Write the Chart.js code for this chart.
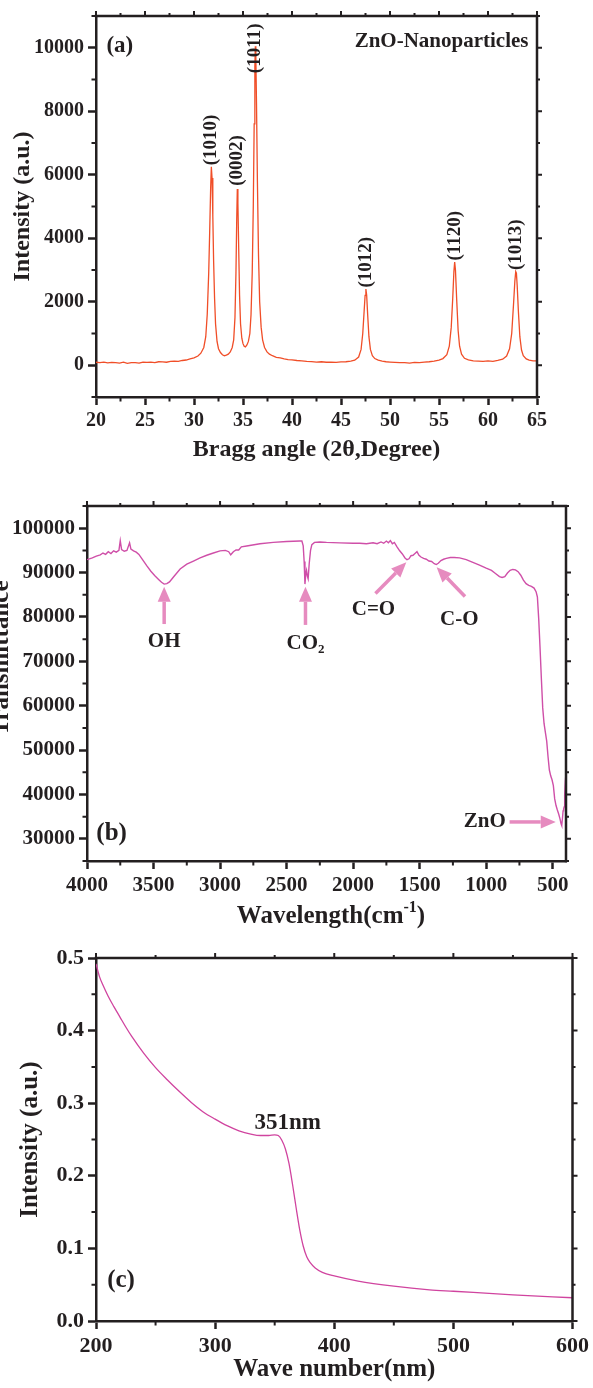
<!DOCTYPE html>
<html>
<head>
<meta charset="utf-8">
<title>ZnO nanoparticles - XRD, FTIR, UV</title>
<script src="https://cdn.jsdelivr.net/npm/chart.js@4.4.1/dist/chart.umd.min.js"></script>
<style>
  body { margin: 0; background: #fff; }
  .panel { position: absolute; left: 0; }
  canvas { display: block; }
</style>
</head>
<body>
<div class="panel" style="top:0px"><canvas id="xrd-chart" width="593" height="475"></canvas></div>
<div class="panel" style="top:475px"><canvas id="ftir-chart" width="593" height="460"></canvas></div>
<div class="panel" style="top:935px"><canvas id="uv-chart" width="593" height="453"></canvas></div>
<script>
var ink = '#231f20';
var serif = '"Liberation Serif", "Times New Roman", serif';

// ---------- (a) XRD ----------
var xrdAngle = [
  20.0, 20.4, 20.8, 21.2, 21.6, 22.0, 22.4, 22.8, 23.2, 23.6,
  24.0, 24.4, 24.8, 25.2, 25.6, 26.0, 26.4, 26.8, 27.2, 27.6,
  28.0, 28.4, 28.8, 29.2, 29.6, 30.0, 30.4, 30.7, 31.0, 31.2,
  31.35, 31.5, 31.6, 31.7, 31.77, 31.84, 31.92, 32.0, 32.1, 32.2,
  32.35, 32.5, 32.7, 32.9, 33.1, 33.3, 33.5, 33.7, 33.9, 34.05,
  34.18, 34.28, 34.36, 34.42, 34.48, 34.56, 34.65, 34.75, 34.88, 35.0,
  35.12, 35.25, 35.4, 35.55, 35.7, 35.82, 35.94, 36.05, 36.14, 36.21,
  36.26, 36.31, 36.38, 36.47, 36.58, 36.7, 36.85, 37.0, 37.2, 37.45,
  37.7, 38.0, 38.4, 38.8, 39.2, 39.6, 40.0, 40.5, 41.0, 41.5,
  42.0, 42.5, 43.0, 43.5, 44.0, 44.5, 45.0, 45.5, 46.0, 46.4,
  46.8, 47.05, 47.22, 47.36, 47.46, 47.54, 47.62, 47.72, 47.85, 48.0,
  48.2, 48.45, 48.8, 49.2, 49.6, 50.0, 50.5, 51.0, 51.5, 52.0,
  52.5, 53.0, 53.5, 54.0, 54.5, 55.0, 55.4, 55.8, 56.05, 56.25,
  56.4, 56.52, 56.6, 56.68, 56.8, 56.95, 57.1, 57.3, 57.6, 58.0,
  58.5, 59.0, 59.5, 60.0, 60.5, 61.0, 61.5, 61.9, 62.2, 62.42,
  62.6, 62.74, 62.83, 62.9, 62.98, 63.1, 63.25, 63.42, 63.6, 63.9,
  64.2, 64.6, 65.0
];
var xrdIntensity = [
  95, 80, 100, 75, 90, 85, 70, 95, 60, 80,
  85, 65, 95, 90, 100, 85, 110, 105, 95, 120,
  130, 125, 150, 165, 200, 230, 290, 380, 560, 900,
  1600, 2900, 4200, 5600, 6250, 5900, 4700, 3300, 2100, 1300,
  750, 520, 400, 330, 300, 320, 350, 420, 560, 800,
  1500, 2900, 4600, 5550, 5100, 3700, 2200, 1300, 850, 680,
  600, 580, 640, 750, 1000, 1600, 2900, 5000, 7600, 9400,
  10050, 9700, 8200, 5800, 3500, 2000, 1200, 800, 560, 420,
  350, 300, 250, 230, 200, 180, 170, 150, 140, 120,
  115, 100, 110, 95, 100, 90, 105, 110, 130, 160,
  260, 500, 1000, 1700, 2200, 2400, 2200, 1600, 900, 500,
  300, 210, 160, 130, 110, 100, 90, 80, 85, 70,
  90, 85, 100, 110, 130, 160, 210, 330, 600, 1200,
  2100, 2950, 3250, 3000, 2100, 1100, 600, 350, 220, 170,
  140, 130, 120, 135, 125, 150, 190, 290, 520, 1000,
  1900, 2650, 2950, 2900, 2500, 1700, 900, 480, 300, 200,
  160, 140, 140
];
var xrdXTicks = [20, 25, 30, 35, 40, 45, 50, 55, 60, 65];
var xrdXMinor = [22.5, 27.5, 32.5, 37.5, 42.5, 47.5, 52.5, 57.5, 62.5];
var xrdYTicks = [0, 2000, 4000, 6000, 8000, 10000];
var xrdYMinor = [-1000, 1000, 3000, 5000, 7000, 9000, 11000];
var xrdPeakAngle = [31.77, 34.42, 36.26, 47.54, 56.6, 62.86];
var xrdPeakName = ['(1010)', '(0002)', '(1011)', '(1012)', '(1120)', '(1013)'];
var xrdPeakLabelBase = [6300, 5650, 9200, 2450, 3300, 3000];

// ---------- (b) FTIR ----------
var ftirWave = [
  4000, 3960, 3930, 3900, 3880, 3860, 3840, 3820, 3800, 3780,
  3760, 3750, 3740, 3720, 3700, 3680, 3670, 3650, 3630, 3610,
  3580, 3550, 3520, 3490, 3460, 3440, 3420, 3400, 3380, 3350,
  3300, 3250, 3200, 3150, 3100, 3050, 3000, 2960, 2935, 2920,
  2900, 2880, 2860, 2840, 2800, 2700, 2600, 2500, 2400, 2385,
  2375, 2368, 2362, 2356, 2350, 2344, 2338, 2330, 2320, 2310,
  2290, 2250, 2200, 2100, 2000, 1950, 1900, 1850, 1820, 1790,
  1770, 1750, 1735, 1720, 1705, 1690, 1670, 1650, 1630, 1610,
  1595, 1580, 1565, 1550, 1535, 1520, 1505, 1490, 1470, 1450,
  1430, 1410, 1390, 1375, 1360, 1340, 1320, 1300, 1270, 1240,
  1200, 1150, 1100, 1050, 1000, 960, 930, 900, 880, 860,
  840, 820, 800, 780, 760, 740, 720, 700, 680, 660,
  640, 625, 615, 605, 595, 585, 575, 565, 555, 545,
  535, 525, 515, 505, 495, 485, 475, 465, 455, 445,
  437, 432, 427, 422, 418, 414, 410, 405, 400
];
var ftirTransmittance = [
  92900, 93300, 93700, 94000, 94400, 94100, 94700, 94300, 94900, 94600,
  95000, 97200, 95200, 94800, 95000, 96700, 95300, 94900, 94600, 94100,
  92800, 91500, 90300, 89300, 88400, 87800, 87400, 87500, 87900, 89000,
  90800, 91900, 92600, 93300, 93900, 94400, 94900, 95000, 94700, 94000,
  94700, 95100, 95100, 95800, 96000, 96500, 96800, 97000, 97100, 97100,
  96000, 92500, 87400, 89600, 90500, 89200, 88600, 92000, 95000, 96300,
  96800, 96900, 96800, 96700, 96600, 96600, 96500, 96700, 96500, 96900,
  96600, 97100, 96700, 97200, 96500, 96800, 95800, 94900, 94200, 93300,
  92900, 93100, 93800, 93900, 94300, 94700, 93900, 93500, 93200, 93000,
  92600, 92500, 92000, 91800, 92100, 92700, 93000, 93200, 93400, 93400,
  93300, 92900, 92300, 91700, 91000, 90500, 89800, 89100, 88900, 89100,
  89900, 90500, 90700, 90600, 90200, 89400, 88300, 87500, 87100, 86900,
  86500, 85700, 84500, 79500, 73000, 66000, 59500, 56000, 54000, 52000,
  48500, 45500, 44200, 43300, 42000, 39000, 37500, 36500, 35600, 34500,
  33400, 33000, 34500, 36300, 36700, 37200, 40000, 43000, 44800
];
var ftirXTicks = [4000, 3500, 3000, 2500, 2000, 1500, 1000, 500];
var ftirXMinor = [3750, 3250, 2750, 2250, 1750, 1250, 750];
var ftirYTicks = [30000, 40000, 50000, 60000, 70000, 80000, 90000, 100000];
var ftirYMinor = [25000, 35000, 45000, 55000, 65000, 75000, 85000, 95000, 105000];
var ftirBandName = ['OH', 'CO', 'C=O', 'C-O', 'ZnO'];
var ftirBandAt = [[3420, 74400], [2358, 74000], [1847, 81560], [1202, 79460], [852, 33800]];
var ftirArrowFrom = [[3420, 78400], [2358, 78200], [1832, 85300], [1159, 84600], [824, 33800]];
var ftirArrowTo = [[3420, 86800], [2358, 86800], [1600, 92300], [1372, 91200], [477, 33800]];

// ---------- (c) UV ----------
var uvWave = [
  200, 203, 206, 210, 215, 220, 225, 230, 240, 250,
  260, 270, 280, 290, 300, 310, 320, 330, 338, 345,
  350, 353, 356, 359, 362, 365, 368, 371, 374, 377,
  380, 384, 390, 400, 420, 450, 480, 500, 550, 600
];
var uvIntensity = [
  0.492, 0.474, 0.462, 0.448, 0.433, 0.419, 0.405, 0.392, 0.369, 0.349,
  0.332, 0.316, 0.301, 0.288, 0.278, 0.269, 0.262, 0.2575, 0.2555, 0.2555,
  0.2565, 0.2555, 0.249, 0.237, 0.217, 0.188, 0.156, 0.126, 0.103, 0.088,
  0.080, 0.073, 0.067, 0.062, 0.055, 0.048, 0.043, 0.041, 0.036, 0.032
];
var uvXTicks = [200, 300, 400, 500, 600];
var uvXMinor = [250, 350, 450, 550];
var uvYTicks = [0, 0.1, 0.2, 0.3, 0.4, 0.5];
var uvYMinor = [0.05, 0.15, 0.25, 0.35, 0.45];

function points(xs, ys) {
  return xs.map(function (x, i) { return { x: x, y: ys[i] }; });
}

function axis(cfg) {
  return {
    type: 'linear',
    position: cfg.position,
    min: cfg.min,
    max: cfg.max,
    reverse: !!cfg.reverse,
    afterBuildTicks: function (s) {
      s.ticks = cfg.ticks.map(function (v) { return { value: v }; });
    },
    afterFit: function (s) {
      if (cfg.position === 'bottom') s.height = cfg.size; else s.width = cfg.size;
    },
    border: { display: true, color: ink, width: 2.5 },
    grid: { drawOnChartArea: false, drawTicks: true, tickLength: 8, tickWidth: 2.5, tickColor: ink },
    ticks: {
      autoSkip: false, maxRotation: 0, minRotation: 0, padding: 4, color: ink,
      font: { family: serif, size: cfg.fontSize, weight: 'bold' },
      callback: cfg.format || function (v) { return String(v); }
    },
    title: cfg.title ? {
      display: true, text: cfg.title, color: ink,
      font: { family: serif, size: cfg.titleSize, weight: 'bold', lineHeight: 1.2 },
      padding: cfg.titlePad
    } : { display: false }
  };
}

// text with optional sub / superscript part and a tail
function richText(ctx, t, x, y) {
  var size = t.size || 20;
  var big = 'bold ' + size + 'px ' + serif;
  var small = 'bold ' + Math.round(size * 0.62) + 'px ' + serif;
  var extra = t.sub || t.sup || '';
  ctx.font = big;
  var w1 = ctx.measureText(t.text).width;
  var w3 = t.tail ? ctx.measureText(t.tail).width : 0;
  ctx.font = small;
  var w2 = extra ? ctx.measureText(extra).width : 0;
  var total = w1 + w2 + w3;
  var x0 = t.align === 'right' ? x - total : (t.align === 'left' ? x : x - total / 2);
  ctx.textAlign = 'left';
  ctx.textBaseline = 'middle';
  ctx.fillStyle = ink;
  ctx.font = big;
  ctx.fillText(t.text, x0, y);
  if (extra) {
    ctx.font = small;
    ctx.fillText(extra, x0 + w1, y + (t.sub ? size * 0.3 : -size * 0.38));
  }
  if (t.tail) {
    ctx.font = big;
    ctx.fillText(t.tail, x0 + w1 + w2, y);
  }
}

function arrow(ctx, x1, y1, x2, y2) {
  var ang = Math.atan2(y2 - y1, x2 - x1), head = 15, half = 6.5;
  var bx = x2 - head * Math.cos(ang), by = y2 - head * Math.sin(ang);
  ctx.beginPath();
  ctx.moveTo(x1, y1);
  ctx.lineTo(bx, by);
  ctx.stroke();
  ctx.beginPath();
  ctx.moveTo(x2, y2);
  ctx.lineTo(bx + half * Math.sin(ang), by - half * Math.cos(ang));
  ctx.lineTo(bx - half * Math.sin(ang), by + half * Math.cos(ang));
  ctx.closePath();
  ctx.fill();
}

// frame, minor ticks, notes and arrows for one panel
function decor(spec) {
  return {
    id: 'decor',
    afterDatasetsDraw: function (chart) {
      var ctx = chart.ctx, xs = chart.scales.x, ys = chart.scales.y;
      ctx.save();
      (spec.arrows || []).forEach(function (ar) {
        ctx.strokeStyle = '#e68bbf';
        ctx.fillStyle = '#e68bbf';
        ctx.lineWidth = 3.5;
        arrow(ctx, xs.getPixelForValue(ar.from[0]), ys.getPixelForValue(ar.from[1]),
          xs.getPixelForValue(ar.to[0]), ys.getPixelForValue(ar.to[1]));
      });
      (spec.labels || []).forEach(function (l) {
        ctx.save();
        ctx.translate(xs.getPixelForValue(l.x), ys.getPixelForValue(l.y));
        if (l.rotate) ctx.rotate(-Math.PI / 2);
        richText(ctx, l, 0, 0);
        ctx.restore();
      });
      (spec.titles || []).forEach(function (l) {
        ctx.save();
        ctx.translate(l.x, l.y);
        if (l.rotate) ctx.rotate(-Math.PI / 2);
        richText(ctx, l, 0, 0);
        ctx.restore();
      });
      ctx.restore();
    },
    afterDraw: function (chart) {
      var ctx = chart.ctx, a = chart.chartArea, xs = chart.scales.x, ys = chart.scales.y;
      ctx.save();
      ctx.strokeStyle = ink;
      ctx.lineWidth = 2.5;
      ctx.lineCap = 'square';
      ctx.beginPath();
      ctx.moveTo(a.left, a.top);
      ctx.lineTo(a.right, a.top);
      ctx.lineTo(a.right, a.bottom);
      ctx.stroke();
      ctx.lineCap = 'butt';
      ctx.lineWidth = 2;
      ctx.beginPath();
      spec.xMinor.forEach(function (v) {
        var p = xs.getPixelForValue(v);
        ctx.moveTo(p, a.bottom); ctx.lineTo(p, a.bottom + 4.5);
        ctx.moveTo(p, a.top); ctx.lineTo(p, a.top - 3);
      });
      spec.xTicks.forEach(function (v) {
        var p = xs.getPixelForValue(v);
        ctx.moveTo(p, a.top); ctx.lineTo(p, a.top - 5);
      });
      spec.yMinor.forEach(function (v) {
        var p = ys.getPixelForValue(v);
        ctx.moveTo(a.left, p); ctx.lineTo(a.left - 4.5, p);
        ctx.moveTo(a.right, p); ctx.lineTo(a.right + 3, p);
      });
      spec.yTicks.forEach(function (v) {
        var p = ys.getPixelForValue(v);
        ctx.moveTo(a.right, p); ctx.lineTo(a.right + 5, p);
      });
      ctx.stroke();
      ctx.restore();
    }
  };
}

var baseOptions = function (padding, scales) {
  return {
    responsive: false,
    animation: false,
    devicePixelRatio: 1,
    layout: { padding: padding },
    plugins: { legend: { display: false }, tooltip: { enabled: false } },
    scales: scales
  };
};

// (a)
var xrdLabels = xrdPeakName.map(function (n, i) {
  return { text: n, x: xrdPeakAngle[i], y: xrdPeakLabelBase[i], rotate: true, align: 'left', size: 19 };
});
xrdLabels.push({ text: '(a)', x: 22.43, y: 10050, size: 23 });
xrdLabels.push({ text: 'ZnO-Nanoparticles', x: 64.13, y: 10210, size: 21, align: 'right' });

new Chart(document.getElementById('xrd-chart'), {
  type: 'line',
  data: {
    datasets: [{
      data: points(xrdAngle, xrdIntensity),
      borderColor: '#f04e28', borderWidth: 1.3, pointRadius: 0, tension: 0
    }]
  },
  options: baseOptions({ left: 4, right: 56, top: 13, bottom: 8 }, {
    x: axis({ position: 'bottom', min: 20, max: 65, ticks: xrdXTicks, size: 70, fontSize: 20,
      title: 'Bragg angle (2θ,Degree)', titleSize: 24, titlePad: { top: 0, bottom: 3 } }),
    y: axis({ position: 'left', min: -1000, max: 11000, ticks: xrdYTicks, size: 92, fontSize: 20,
      title: 'Intensity (a.u.)', titleSize: 24, titlePad: { top: 4, bottom: 0 } })
  }),
  plugins: [decor({ xTicks: xrdXTicks, xMinor: xrdXMinor, yTicks: xrdYTicks, yMinor: xrdYMinor, labels: xrdLabels })]
});

// (b)
var ftirLabels = ftirBandName.map(function (n, i) {
  var l = { text: n, x: ftirBandAt[i][0], y: ftirBandAt[i][1], size: 21 };
  if (n === 'CO') l.sub = '2';
  if (n === 'ZnO') l.align = 'right';
  return l;
});
ftirLabels.push({ text: '(b)', x: 3815, y: 31150, size: 25 });
var ftirArrows = ftirArrowFrom.map(function (f, i) { return { from: f, to: ftirArrowTo[i] }; });

new Chart(document.getElementById('ftir-chart'), {
  type: 'line',
  data: {
    datasets: [{
      data: points(ftirWave, ftirTransmittance),
      borderColor: '#cf4fa8', borderWidth: 1.4, pointRadius: 0, tension: 0
    }]
  },
  options: baseOptions({ left: 0, right: 27, top: 31, bottom: 0 }, {
    x: axis({ position: 'bottom', min: 400, max: 4000, reverse: true, ticks: ftirXTicks, size: 74, fontSize: 21 }),
    y: axis({ position: 'left', min: 25000, max: 105000, ticks: ftirYTicks, size: 87, fontSize: 21 })
  }),
  plugins: [decor({
    xTicks: ftirXTicks, xMinor: ftirXMinor, yTicks: ftirYTicks, yMinor: ftirYMinor,
    labels: ftirLabels, arrows: ftirArrows,
    titles: [
      { text: 'Transmittance', x: 2, y: 183, rotate: true, size: 25 },
      { text: 'Wavelength(cm', sup: '-1', tail: ')', x: 331, y: 442, size: 25 }
    ]
  })]
});

// (c)
new Chart(document.getElementById('uv-chart'), {
  type: 'line',
  data: {
    datasets: [{
      data: points(uvWave, uvIntensity),
      borderColor: '#d0449f', borderWidth: 1.3, pointRadius: 0,
      tension: 0.3, cubicInterpolationMode: 'monotone'
    }]
  },
  options: baseOptions({ left: 10, right: 15, top: 23, bottom: 2 }, {
    x: axis({ position: 'bottom', min: 200, max: 600, ticks: uvXTicks, size: 65, fontSize: 22,
      title: 'Wave number(nm)', titleSize: 25, titlePad: { top: 0, bottom: 1 } }),
    y: axis({ position: 'left', min: 0, max: 0.5, ticks: uvYTicks, size: 86, fontSize: 22,
      format: function (v) { return v.toFixed(1); },
      title: 'Intensity (a.u.)', titleSize: 25, titlePad: { top: 6, bottom: 0 } })
  }),
  plugins: [decor({
    xTicks: uvXTicks, xMinor: uvXMinor, yTicks: uvYTicks, yMinor: uvYMinor,
    labels: [
      { text: '351nm', x: 361, y: 0.272, size: 23 },
      { text: '(c)', x: 221, y: 0.056, size: 25 }
    ]
  })]
});
</script>
</body>
</html>
